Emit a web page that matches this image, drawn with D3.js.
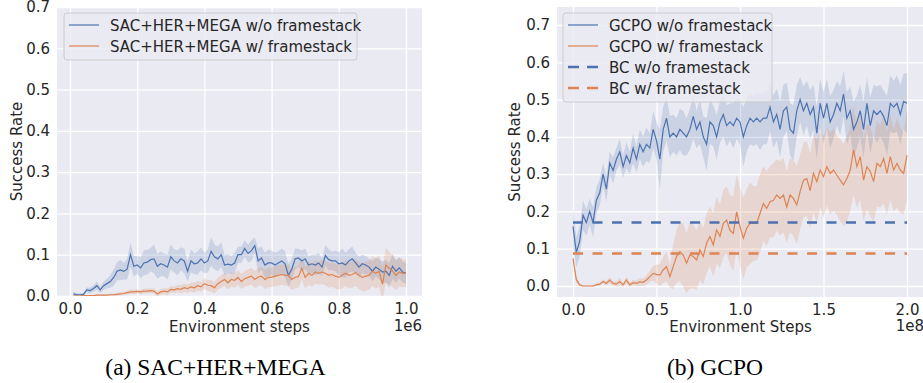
<!DOCTYPE html>
<html lang="en">
<head>
    <meta charset="UTF-8">
    <title>Framestack comparison</title>
    <script src="https://cdnjs.cloudflare.com/ajax/libs/d3/7.8.5/d3.min.js"></script>
    <style>
        body { margin: 0; background: #fff; }
        svg text { font-family: "DejaVu Sans", sans-serif; fill: #262626; }
        svg text.caption { font-family: "Liberation Serif", "Times New Roman", serif; fill: #000; }
    </style>
</head>
<body>
<svg id="chart" width="923" height="383"></svg>
<script>
    // ---- data ----
    // panel (a): SAC+HER+MEGA, evaluated every 1e4 steps from 1e4 to 1e6
    const stepsA = d3.range(1, 101).map(i => i * 1e4);
    const sacNoStack = [
        0.005, 0.003, 0.003, 0.004, 0.015, 0.013, 0.018, 0.025, 0.015, 0.025,
        0.03, 0.035, 0.045, 0.06, 0.063, 0.06, 0.065, 0.1, 0.072, 0.075,
        0.068, 0.08, 0.082, 0.088, 0.09, 0.072, 0.078, 0.075, 0.07, 0.095,
        0.085, 0.08, 0.09, 0.085, 0.06, 0.085, 0.078, 0.08, 0.09, 0.08,
        0.085, 0.108, 0.095, 0.09, 0.1, 0.075, 0.077, 0.075, 0.08, 0.1,
        0.1, 0.115, 0.103, 0.11, 0.122, 0.085, 0.092, 0.075, 0.08, 0.08,
        0.075, 0.08, 0.085, 0.078, 0.05, 0.065, 0.09, 0.092, 0.085, 0.09,
        0.075, 0.078, 0.075, 0.08, 0.07, 0.098, 0.088, 0.085, 0.085, 0.078,
        0.08, 0.075, 0.085, 0.09, 0.08, 0.07, 0.078, 0.075, 0.07, 0.06,
        0.07, 0.065, 0.058, 0.06, 0.05, 0.072, 0.06, 0.068, 0.058, 0.055
    ];
    const sacNoStackSd = [
        0.006, 0.004, 0.003, 0.004, 0.006, 0.007, 0.008, 0.01, 0.008, 0.01,
        0.012, 0.015, 0.02, 0.022, 0.025, 0.02, 0.025, 0.03, 0.025, 0.022,
        0.025, 0.03, 0.03, 0.028, 0.035, 0.03, 0.03, 0.028, 0.03, 0.03,
        0.028, 0.03, 0.028, 0.03, 0.025, 0.028, 0.025, 0.028, 0.028, 0.025,
        0.028, 0.035, 0.03, 0.03, 0.03, 0.025, 0.025, 0.022, 0.025, 0.02,
        0.02, 0.02, 0.022, 0.025, 0.02, 0.03, 0.028, 0.03, 0.032, 0.03,
        0.03, 0.028, 0.03, 0.03, 0.028, 0.025, 0.025, 0.022, 0.025, 0.025,
        0.022, 0.022, 0.025, 0.025, 0.022, 0.025, 0.025, 0.022, 0.025, 0.028,
        0.035, 0.03, 0.028, 0.03, 0.025, 0.025, 0.022, 0.022, 0.02, 0.025,
        0.022, 0.025, 0.025, 0.028, 0.03, 0.03, 0.028, 0.025, 0.025, 0.025
    ];
    const sacStack = [
        0, 0, 0, 0.001, 0.001, 0.001, 0.001, 0.002, 0.002, 0.002,
        0.002, 0.003, 0.003, 0.004, 0.005, 0.006, 0.008, 0.01, 0.01, 0.011,
        0.01, 0.012, 0.012, 0.013, 0.012, 0.005, 0.01, 0.012, 0.01, 0.016,
        0.015, 0.018, 0.016, 0.02, 0.018, 0.022, 0.02, 0.025, 0.022, 0.03,
        0.026, 0.025, 0.02, 0.03, 0.035, 0.04, 0.032, 0.04, 0.038, 0.045,
        0.035, 0.042, 0.045, 0.048, 0.04, 0.046, 0.048, 0.04, 0.045, 0.045,
        0.048, 0.05, 0.052, 0.05, 0.05, 0.04, 0.045, 0.047, 0.067, 0.045,
        0.055, 0.05, 0.058, 0.055, 0.058, 0.055, 0.05, 0.052, 0.048, 0.045,
        0.05, 0.055, 0.05, 0.052, 0.057, 0.05, 0.045, 0.048, 0.05, 0.06,
        0.055, 0.06, 0.028, 0.075, 0.068, 0.06, 0.05, 0.058, 0.055, 0.055
    ];
    const sacStackSd = [
        0.001, 0.001, 0.001, 0.001, 0.001, 0.001, 0.001, 0.002, 0.002, 0.002,
        0.002, 0.003, 0.003, 0.003, 0.004, 0.004, 0.004, 0.005, 0.005, 0.005,
        0.005, 0.006, 0.006, 0.006, 0.006, 0.006, 0.007, 0.007, 0.008, 0.008,
        0.008, 0.009, 0.01, 0.01, 0.01, 0.011, 0.012, 0.012, 0.012, 0.013,
        0.013, 0.014, 0.014, 0.015, 0.015, 0.016, 0.016, 0.017, 0.018, 0.018,
        0.018, 0.019, 0.02, 0.02, 0.021, 0.022, 0.022, 0.023, 0.024, 0.024,
        0.024, 0.025, 0.025, 0.025, 0.026, 0.026, 0.026, 0.027, 0.027, 0.027,
        0.028, 0.028, 0.028, 0.028, 0.029, 0.029, 0.03, 0.03, 0.03, 0.03,
        0.031, 0.031, 0.032, 0.032, 0.033, 0.033, 0.034, 0.035, 0.035, 0.036,
        0.037, 0.038, 0.04, 0.042, 0.04, 0.038, 0.036, 0.035, 0.034, 0.033
    ];

    // panel (b): GCPO, evaluated every 2e6 steps from 0 to 2e8
    const stepsB = d3.range(0, 101).map(i => i * 2e6);
    const gcpoNoStack = [
        0.16, 0.09, 0.12, 0.19, 0.17, 0.2, 0.17, 0.23, 0.25, 0.3,
        0.26, 0.33, 0.31, 0.34, 0.36, 0.32, 0.35, 0.33, 0.37, 0.34,
        0.38, 0.36, 0.38, 0.37, 0.42, 0.39, 0.34, 0.42, 0.45, 0.40,
        0.41, 0.40, 0.42, 0.41, 0.40, 0.42, 0.455, 0.42, 0.44, 0.40,
        0.38, 0.44, 0.43, 0.40, 0.44, 0.46, 0.43, 0.44, 0.43, 0.45,
        0.44, 0.40, 0.43, 0.45, 0.44, 0.45, 0.44, 0.45, 0.45, 0.48,
        0.44, 0.46, 0.42, 0.47, 0.48, 0.42, 0.41, 0.47, 0.50, 0.47,
        0.49, 0.46, 0.48, 0.41, 0.49, 0.45, 0.49, 0.44, 0.46, 0.49,
        0.47, 0.515, 0.45, 0.47, 0.42, 0.44, 0.47, 0.42, 0.49, 0.43,
        0.47, 0.46, 0.47, 0.455, 0.43, 0.49, 0.48, 0.49, 0.46, 0.495,
        0.49
    ];
    const gcpoNoStackSd = [
        0.05, 0.04, 0.04, 0.04, 0.035, 0.035, 0.04, 0.035, 0.035, 0.03,
        0.035, 0.03, 0.035, 0.03, 0.035, 0.03, 0.035, 0.03, 0.04, 0.035,
        0.04, 0.04, 0.045, 0.04, 0.05, 0.05, 0.08, 0.06, 0.06, 0.055,
        0.05, 0.05, 0.055, 0.06, 0.05, 0.055, 0.06, 0.05, 0.06, 0.055,
        0.07, 0.06, 0.055, 0.06, 0.055, 0.06, 0.055, 0.05, 0.06, 0.055,
        0.06, 0.08, 0.07, 0.07, 0.065, 0.07, 0.075, 0.07, 0.07, 0.065,
        0.07, 0.07, 0.075, 0.07, 0.065, 0.07, 0.075, 0.07, 0.06, 0.065,
        0.06, 0.065, 0.06, 0.07, 0.065, 0.07, 0.065, 0.07, 0.065, 0.06,
        0.065, 0.06, 0.07, 0.065, 0.075, 0.07, 0.07, 0.075, 0.07, 0.075,
        0.07, 0.075, 0.07, 0.07, 0.08, 0.075, 0.07, 0.075, 0.08, 0.075,
        0.08
    ];
    const gcpoStack = [
        0.074, 0.017, 0.003, 0.0, 0.0, 0.0, 0.0, 0.003, 0.005, 0.012,
        0.007, 0.016, 0.007, 0.005, 0.012, 0.003, 0.016, 0.003, 0.009, 0.007,
        0.011, 0.01, 0.016, 0.025, 0.034, 0.031, 0.029, 0.043, 0.052, 0.025,
        0.052, 0.079, 0.092, 0.083, 0.061, 0.083, 0.079, 0.07, 0.097, 0.079,
        0.115, 0.133, 0.11, 0.15, 0.133, 0.168, 0.177, 0.15, 0.141, 0.199,
        0.159, 0.128, 0.155, 0.168, 0.168, 0.168, 0.195, 0.221, 0.208, 0.226,
        0.23, 0.244, 0.235, 0.244, 0.212, 0.244, 0.235, 0.217, 0.253, 0.284,
        0.288, 0.256, 0.302, 0.28, 0.311, 0.293, 0.32, 0.302, 0.311, 0.297,
        0.284, 0.271, 0.288, 0.311, 0.365, 0.32, 0.347, 0.284, 0.32, 0.307,
        0.28, 0.329, 0.32, 0.342, 0.302, 0.347, 0.311, 0.329, 0.311, 0.302,
        0.351
    ];
    const gcpoStackSd = [
        0.008, 0.008, 0.004, 0.002, 0.002, 0.002, 0.002, 0.003, 0.004, 0.006,
        0.006, 0.008, 0.006, 0.007, 0.01, 0.006, 0.01, 0.006, 0.008, 0.008,
        0.01, 0.01, 0.012, 0.015, 0.02, 0.025, 0.03, 0.035, 0.04, 0.03,
        0.06, 0.07, 0.08, 0.085, 0.08, 0.09, 0.085, 0.08, 0.08, 0.075,
        0.08, 0.08, 0.085, 0.09, 0.085, 0.09, 0.09, 0.095, 0.1, 0.1,
        0.105, 0.11, 0.105, 0.11, 0.1, 0.1, 0.105, 0.1, 0.1, 0.095,
        0.1, 0.095, 0.1, 0.1, 0.095, 0.1, 0.1, 0.105, 0.1, 0.1,
        0.1, 0.1, 0.105, 0.11, 0.1, 0.11, 0.105, 0.11, 0.11, 0.105,
        0.11, 0.11, 0.115, 0.11, 0.12, 0.11, 0.115, 0.11, 0.115, 0.12,
        0.11, 0.115, 0.11, 0.12, 0.11, 0.115, 0.11, 0.12, 0.115, 0.11,
        0.12
    ];
    // behaviour cloning baselines (constant)
    const bcNoStack = 0.17;
    const bcStack = 0.087;

    const yTicks = [0.0, 0.1, 0.2, 0.3, 0.4, 0.5, 0.6, 0.7];
    const xTicksA = [0, 2e5, 4e5, 6e5, 8e5, 1e6];
    const xTicksB = [0, 0.5e8, 1e8, 1.5e8, 2e8];

    const blue = '#4c72b0';
    const orange = '#dd8452';
    const fs = 15;

    let svg = d3.select('#chart');

    function drawPanel(p) {
        let g = svg.append('g');
        let x = d3.scaleLinear().domain(p.xDomain).range(p.xRange);
        let y = d3.scaleLinear().domain([0, 0.7]).range(p.yRange);

        //background
        g.append('rect')
            .attr('x', p.box[0]).attr('y', p.box[1])
            .attr('width', p.box[2] - p.box[0]).attr('height', p.box[3] - p.box[1])
            .attr('fill', '#eaeaf2');

        let clipId = 'clip' + p.id;
        svg.append('clipPath').attr('id', clipId).append('rect')
            .attr('x', p.box[0]).attr('y', p.box[1])
            .attr('width', p.box[2] - p.box[0]).attr('height', p.box[3] - p.box[1]);

        //grid + tick labels
        let yAxis = g.append('g').attr('transform', `translate(${p.box[0]},0)`)
            .call(d3.axisLeft(y).tickValues(yTicks).tickFormat(d3.format('.1f'))
                .tickSize(-(p.box[2] - p.box[0])).tickPadding(7));
        let xAxis = g.append('g').attr('transform', `translate(0,${p.box[3]})`)
            .call(d3.axisBottom(x).tickValues(p.xTicks).tickFormat(d => d3.format('.1f')(d / p.scale))
                .tickSize(-(p.box[3] - p.box[1])).tickPadding(7));
        [xAxis, yAxis].forEach(a => {
            a.select('.domain').remove();
            a.selectAll('line').attr('stroke', '#fff').attr('stroke-width', 1.3);
            a.selectAll('text').attr('font-size', fs).attr('fill', '#262626')
                .style('font-family', '"DejaVu Sans", sans-serif');
        });

        let plot = g.append('g').attr('clip-path', `url(#${clipId})`);

        p.series.forEach(s => {
            let pts = s.steps.map((st, i) => ({ x: st, m: s.mean[i], sd: s.sd[i] }));
            plot.append('path')
                .attr('d', d3.area().x(d => x(d.x)).y0(d => y(d.m - d.sd)).y1(d => y(d.m + d.sd))(pts))
                .attr('fill', s.color).attr('fill-opacity', 0.2);
        });
        p.series.forEach(s => {
            let pts = s.steps.map((st, i) => ({ x: st, m: s.mean[i] }));
            plot.append('path')
                .attr('d', d3.line().x(d => x(d.x)).y(d => y(d.m))(pts))
                .attr('fill', 'none').attr('stroke', s.color).attr('stroke-width', 1.2);
        });
        (p.baselines || []).forEach(b => {
            plot.append('line')
                .attr('x1', x(p.xTicks[0])).attr('x2', x(p.xTicks[p.xTicks.length - 1]))
                .attr('y1', y(b.value)).attr('y2', y(b.value))
                .attr('stroke', b.color).attr('stroke-width', 2.5)
                .attr('stroke-dasharray', '10,9.5');
        });

        //axis labels
        let cx = (p.box[0] + p.box[2]) / 2;
        let cy = (p.box[1] + p.box[3]) / 2;
        g.append('text').attr('x', cx).attr('y', 332).attr('text-anchor', 'middle')
            .attr('font-size', fs).text(p.xLabel);
        g.append('text').attr('x', p.box[2]).attr('y', 331).attr('text-anchor', 'end')
            .attr('font-size', fs).text(p.offset);
        g.append('text').attr('transform', `translate(${p.yLabelX},${cy}) rotate(-90)`)
            .attr('text-anchor', 'middle').attr('dy', '0.35em')
            .attr('font-size', fs).text('Success Rate');

        //legend
        let entries = p.series.map(s => ({ label: s.label, color: s.color, dash: null }))
            .concat((p.baselines || []).map(b => ({ label: b.label, color: b.color, dash: '11,8' })));
        let lg = g.append('g').attr('transform', `translate(${p.legend[0]},${p.legend[1]})`);
        lg.append('rect').attr('width', p.legend[2]).attr('height', 5 + entries.length * 21)
            .attr('rx', 3).attr('fill', '#eaeaf2').attr('fill-opacity', 0.8)
            .attr('stroke', '#cccccc').attr('stroke-width', 1);
        entries.forEach((e, i) => {
            let ry = 12 + i * 21;
            lg.append('line').attr('x1', 5).attr('x2', 35).attr('y1', ry).attr('y2', ry)
                .attr('stroke', e.color)
                .attr('stroke-width', e.dash ? 2.5 : 1.2)
                .attr('stroke-dasharray', e.dash);
            lg.append('text').attr('x', 46).attr('y', ry + 5.5).attr('font-size', fs).text(e.label);
        });

        //caption
        svg.append('text').attr('class', 'caption').attr('x', p.captionX).attr('y', 375)
            .attr('text-anchor', 'middle').attr('font-size', 23.5).text(p.caption);
    }

    drawPanel({
        id: 'a',
        box: [57, 7, 422, 296],
        xDomain: [0, 1e6], xRange: [70, 406],
        yRange: [296, 7],
        xTicks: xTicksA, scale: 1e6,
        xLabel: 'Environment steps', offset: '1e6',
        yLabelX: 17,
        legend: [64, 13, 293],
        caption: '(a) SAC+HER+MEGA', captionX: 215.5,
        series: [
            { label: 'SAC+HER+MEGA w/o framestack', color: blue, steps: stepsA, mean: sacNoStack, sd: sacNoStackSd },
            { label: 'SAC+HER+MEGA w/ framestack', color: orange, steps: stepsA, mean: sacStack, sd: sacStackSd }
        ]
    });

    drawPanel({
        id: 'b',
        box: [557, 7, 924, 297],
        xDomain: [0, 2e8], xRange: [573, 907],
        yRange: [286, 25],
        xTicks: xTicksB, scale: 1e8,
        xLabel: 'Environment Steps', offset: '1e8',
        yLabelX: 515,
        legend: [563, 13, 209],
        caption: '(b) GCPO', captionX: 715,
        series: [
            { label: 'GCPO w/o framestack', color: blue, steps: stepsB, mean: gcpoNoStack, sd: gcpoNoStackSd },
            { label: 'GCPO w/ framestack', color: orange, steps: stepsB, mean: gcpoStack, sd: gcpoStackSd }
        ],
        baselines: [
            { label: 'BC w/o framestack', color: blue, value: bcNoStack },
            { label: 'BC w/ framestack', color: orange, value: bcStack }
        ]
    });
</script>
</body>
</html>
